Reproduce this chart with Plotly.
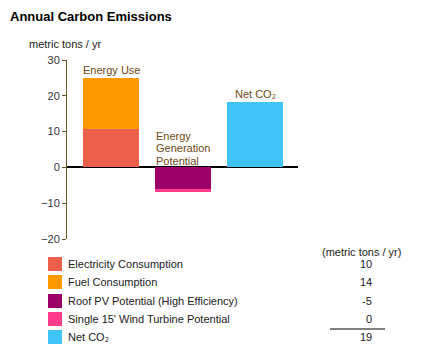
import plotly.graph_objects as go

# ---- data ----
groups = ["Energy Use", "Energy Generation Potential", "Net CO₂"]
gen_label_lines = ["Energy", "Generation", "Potential"]
series_names = ["Electricity Consumption", "Fuel Consumption",
                "Roof PV Potential (High Efficiency)",
                "Single 15' Wind Turbine Potential", "Net CO₂"]
series_group = [0, 0, 1, 1, 2]
series_values = [10.6, 14.3, -6.1, -0.7, 18.4]
table_values = ["10", "14", "-5", "0", "19"]
series_colors = ["#EB5F4B", "#FF9900", "#9B0066", "#FF3D8B", "#40C4F6"]
y_ticks = [-20, -10, 0, 10, 20, 30]

W, H = 428, 353
ML, MT, MR, MB = 67, 60, 130, 114
PW, PH = W - ML - MR, H - MT - MB
LABEL_COLOR = "#6B4A14"
AXIS_COLOR = "#6B5428"
FONT = "Arial, Liberation Sans, sans-serif"

def px(x):
    return (x - ML) / PW

def py(y):
    return (H - MB - y) / PH

fig = go.Figure()
for name, g, v, c in zip(series_names, series_group, series_values, series_colors):
    fig.add_trace(go.Bar(x=[g], y=[v], name=name, marker=dict(color=c, line=dict(width=0)),
                         width=0.78, showlegend=False, hoverinfo="skip"))

ann = []
# group labels
ann.append(dict(x=0, y=25.1, xref="x", yref="y", text=groups[0], showarrow=False,
                xanchor="center", yanchor="bottom", font=dict(size=11, color=LABEL_COLOR)))
for line, yv in zip(gen_label_lines, [8.9, 5.5, 1.9]):
    ann.append(dict(x=0.6, y=yv, xref="x", yref="y", text=line,
                    showarrow=False, xanchor="left", yanchor="middle", align="left",
                    font=dict(size=11, color=LABEL_COLOR)))
ann.append(dict(x=2, y=18.2, xref="x", yref="y", text=groups[2], showarrow=False,
                xanchor="center", yanchor="bottom", font=dict(size=11, color=LABEL_COLOR)))

# title and axis unit
ann.append(dict(x=px(8), y=py(16), xref="paper", yref="paper", text="<b>Annual Carbon Emissions</b>",
                showarrow=False, xanchor="left", yanchor="middle", font=dict(size=13, color="#000")))
ann.append(dict(x=px(27), y=py(44), xref="paper", yref="paper", text="metric tons / yr",
                showarrow=False, xanchor="left", yanchor="middle", font=dict(size=11, color="#222")))

# legend table
ann.append(dict(x=px(403), y=py(252), xref="paper", yref="paper", text="(metric tons / yr)",
                showarrow=False, xanchor="right", yanchor="middle", font=dict(size=11, color="#222")))
shapes = []
row_y = [264, 282, 301, 319, 337]
for i, (name, val, c) in enumerate(zip(series_names, table_values, series_colors)):
    yc = row_y[i]
    shapes.append(dict(type="rect", xref="paper", yref="paper", x0=px(48), x1=px(62),
                       y0=py(yc - 7), y1=py(yc + 7), fillcolor=c, line=dict(width=0)))
    ann.append(dict(x=px(66), y=py(yc), xref="paper", yref="paper", text=name, showarrow=False,
                    xanchor="left", yanchor="middle", font=dict(size=11, color="#222")))
    ann.append(dict(x=px(374), y=py(yc), xref="paper", yref="paper", text=val, showarrow=False,
                    xanchor="right", yanchor="middle", font=dict(size=11, color="#222")))
shapes.append(dict(type="line", xref="paper", yref="paper", x0=px(330), x1=px(385),
                   y0=py(329), y1=py(329), line=dict(color="#000", width=1)))

fig.update_layout(
    width=W, height=H,
    margin=dict(l=ML, r=MR, t=MT, b=MB, pad=0),
    paper_bgcolor="white", plot_bgcolor="white",
    barmode="relative", bargap=0,
    font=dict(family=FONT, size=11, color="#333"),
    xaxis=dict(range=[-0.611, 2.597], visible=False, fixedrange=True),
    yaxis=dict(range=[-20, 30], tickvals=y_ticks, showgrid=False,
               showline=True, linecolor=AXIS_COLOR, linewidth=1,
               ticks="outside", ticklen=4, tickcolor=AXIS_COLOR,
               zeroline=True, zerolinecolor="#000", zerolinewidth=1.5,
               tickfont=dict(size=11, color="#333"), fixedrange=True),
    annotations=ann, shapes=shapes, showlegend=False,
)
fig.write_html("out.html")
